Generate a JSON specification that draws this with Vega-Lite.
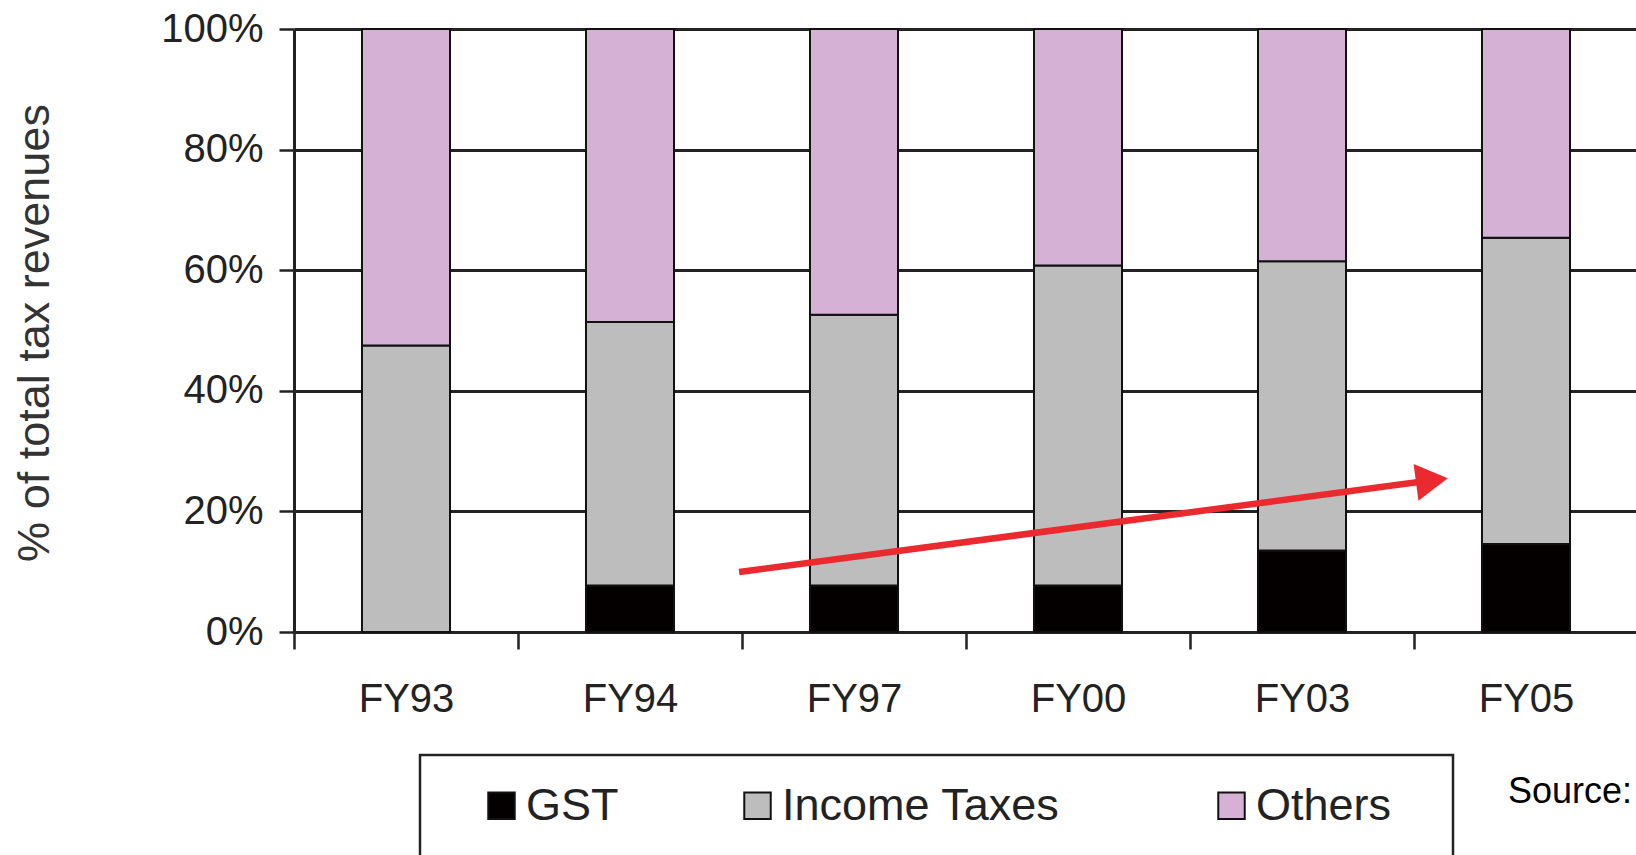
{
  "$schema": "https://vega.github.io/schema/vega-lite/v6.json",
  "autosize": {"type": "none"},
  "width": 1344,
  "height": 603,
  "padding": {"left": 294, "top": 29, "right": 0, "bottom": 223},
  "background": "white",
  "config": {"view": {"stroke": null}, "font": "Liberation Sans"},
  "title": {
    "text": "Source:",
    "orient": "top",
    "anchor": "end",
    "frame": "group",
    "fontSize": 36,
    "fontWeight": "normal",
    "color": "#000000",
    "font": "Liberation Sans",
    "baseline": "top",
    "offset": 0,
    "dy": 802,
    "dx": -6
  },
  "datasets": {
    "shares": [
      {"year": "FY93", "tax": "GST", "share": 0, "ord": 1},
      {"year": "FY93", "tax": "Income Taxes", "share": 47.5, "ord": 2},
      {"year": "FY93", "tax": "Others", "share": 52.5, "ord": 3},
      {"year": "FY94", "tax": "GST", "share": 7.7, "ord": 1},
      {"year": "FY94", "tax": "Income Taxes", "share": 43.7, "ord": 2},
      {"year": "FY94", "tax": "Others", "share": 48.6, "ord": 3},
      {"year": "FY97", "tax": "GST", "share": 7.7, "ord": 1},
      {"year": "FY97", "tax": "Income Taxes", "share": 44.9, "ord": 2},
      {"year": "FY97", "tax": "Others", "share": 47.4, "ord": 3},
      {"year": "FY00", "tax": "GST", "share": 7.7, "ord": 1},
      {"year": "FY00", "tax": "Income Taxes", "share": 53.1, "ord": 2},
      {"year": "FY00", "tax": "Others", "share": 39.2, "ord": 3},
      {"year": "FY03", "tax": "GST", "share": 13.5, "ord": 1},
      {"year": "FY03", "tax": "Income Taxes", "share": 48.0, "ord": 2},
      {"year": "FY03", "tax": "Others", "share": 38.5, "ord": 3},
      {"year": "FY05", "tax": "GST", "share": 14.6, "ord": 1},
      {"year": "FY05", "tax": "Income Taxes", "share": 50.8, "ord": 2},
      {"year": "FY05", "tax": "Others", "share": 34.6, "ord": 3}
    ],
    "arrow": [
      {"ax": 1.987, "ay": 9.95},
      {"ax": 5.08, "ay": 25.15}
    ],
    "arrowHead": [
      {"ax": 5.08, "ay": 25.15}
    ]
  },
  "layer": [
    {
      "data": {"name": "shares"},
      "mark": {"type": "bar", "stroke": "#111111", "strokeWidth": 2, "width": {"band": 0.393}},
      "encoding": {
        "x": {
          "field": "year",
          "type": "nominal",
          "sort": ["FY93", "FY94", "FY97", "FY00", "FY03", "FY05"],
          "scale": {"paddingInner": 0, "paddingOuter": 0},
          "axis": {
            "title": null,
            "tickBand": "extent",
            "labelAngle": 0,
            "labelFontSize": 40,
            "labelFont": "Liberation Sans",
            "labelColor": "#222222",
            "labelPadding": 30,
            "tickSize": 17,
            "tickWidth": 2.5,
            "tickColor": "#222222",
            "domainColor": "#222222",
            "domainWidth": 3,
            "grid": false
          }
        },
        "y": {
          "field": "share",
          "type": "quantitative",
          "stack": "zero",
          "scale": {"domain": [0, 100], "nice": false},
          "axis": {
            "values": [0, 20, 40, 60, 80, 100],
            "labelExpr": "datum.value + '%'",
            "labelFontSize": 40,
            "labelFont": "Liberation Sans",
            "labelColor": "#222222",
            "labelPadding": 16,
            "tickSize": 15,
            "tickWidth": 2.5,
            "tickColor": "#222222",
            "domainColor": "#222222",
            "domainWidth": 3,
            "grid": true,
            "gridColor": "#222222",
            "gridWidth": 3,
            "title": "% of total tax revenues",
            "titleFont": "Liberation Sans",
            "titleFontSize": 45,
            "titleFontWeight": "normal",
            "titleColor": "#333333",
            "titleX": -246,
            "titleY": 303.5,
            "titleAngle": 270,
            "titleAlign": "center",
            "titleBaseline": "alphabetic"
          }
        },
        "color": {
          "field": "tax",
          "type": "nominal",
          "scale": {
            "domain": ["GST", "Income Taxes", "Others"],
            "range": ["#050000", "#bdbdbd", "#d5b1d5"]
          },
          "legend": {
            "orient": "none",
            "legendX": 126,
            "legendY": 726,
            "direction": "horizontal",
            "columns": 3,
            "title": ["\u00a0", "\u00a0"],
            "titleOrient": "left",
            "titleFontSize": 10,
            "titleLineHeight": 45,
            "titlePadding": 31,
            "padding": 28,
            "strokeColor": "#222222",
            "columnPadding": 116,
            "labelFontSize": 45,
            "labelLimit": 500,
            "labelFont": "Liberation Sans",
            "labelColor": "#222222",
            "labelOffset": 2,
            "symbolType": "square",
            "symbolSize": 700,
            "symbolStrokeColor": "#111111",
            "symbolStrokeWidth": 2,
            "symbolOpacity": 1,
            "labelExpr": "datum.label == 'Others' ? 'Others\u2800' : (datum.label == 'Income Taxes' ? 'Income Taxes\u2800' : datum.label)",
            "encode": {"legend": {"update": {"strokeWidth": {"value": 2.5}}}}
          }
        },
        "order": {"field": "ord", "type": "quantitative"}
      }
    },
    {
      "data": {"name": "arrow"},
      "mark": {"type": "line", "color": "#ea2a2f", "strokeWidth": 6.5, "strokeCap": "butt"},
      "encoding": {
        "x": {"field": "ax", "type": "quantitative", "scale": {"domain": [0, 6], "nice": false, "zero": false}, "axis": null},
        "y": {
          "field": "ay",
          "type": "quantitative",
          "scale": {"domain": [0, 100], "nice": false},
          "axis": {
            "values": [0, 20, 40, 60, 80, 100],
            "labelExpr": "datum.value + '%'",
            "labelFontSize": 40,
            "labelFont": "Liberation Sans",
            "labelColor": "#222222",
            "labelPadding": 16,
            "tickSize": 15,
            "tickWidth": 2.5,
            "tickColor": "#222222",
            "domainColor": "#222222",
            "domainWidth": 3,
            "grid": true,
            "gridColor": "#222222",
            "gridWidth": 3,
            "title": "% of total tax revenues",
            "titleFont": "Liberation Sans",
            "titleFontSize": 45,
            "titleFontWeight": "normal",
            "titleColor": "#333333",
            "titleX": -246,
            "titleY": 303.5,
            "titleAngle": 270,
            "titleAlign": "center",
            "titleBaseline": "alphabetic"
          }
        }
      }
    },
    {
      "data": {"name": "arrowHead"},
      "mark": {"type": "point", "shape": "triangle-right", "filled": true, "color": "#ea2a2f", "size": 1370, "angle": 352.46, "opacity": 1},
      "encoding": {
        "x": {"field": "ax", "type": "quantitative", "scale": {"domain": [0, 6], "nice": false, "zero": false}, "axis": null},
        "y": {
          "field": "ay",
          "type": "quantitative",
          "scale": {"domain": [0, 100], "nice": false},
          "axis": {
            "values": [0, 20, 40, 60, 80, 100],
            "labelExpr": "datum.value + '%'",
            "labelFontSize": 40,
            "labelFont": "Liberation Sans",
            "labelColor": "#222222",
            "labelPadding": 16,
            "tickSize": 15,
            "tickWidth": 2.5,
            "tickColor": "#222222",
            "domainColor": "#222222",
            "domainWidth": 3,
            "grid": true,
            "gridColor": "#222222",
            "gridWidth": 3,
            "title": "% of total tax revenues",
            "titleFont": "Liberation Sans",
            "titleFontSize": 45,
            "titleFontWeight": "normal",
            "titleColor": "#333333",
            "titleX": -246,
            "titleY": 303.5,
            "titleAngle": 270,
            "titleAlign": "center",
            "titleBaseline": "alphabetic"
          }
        }
      }
    }
  ],
  "resolve": {"scale": {"x": "independent"}}
}
